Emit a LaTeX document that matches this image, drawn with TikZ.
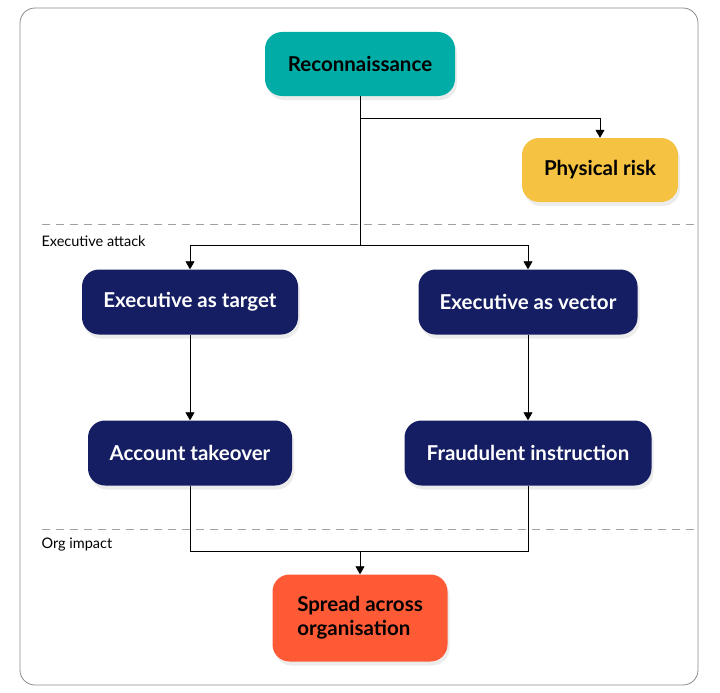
\documentclass[tikz,border=0pt]{standalone}
\usepackage{fontspec}
\setmainfont{Lato}
\usepackage{tikz}
\usetikzlibrary{arrows.meta}
\usetikzlibrary{shadows}
\definecolor{reconteal}{HTML}{00ADA6}
\definecolor{riskyellow}{HTML}{F5C242}
\definecolor{execnavy}{HTML}{151E62}
\definecolor{impactred}{HTML}{FF5A36}
\definecolor{framegray}{HTML}{8A8A8A}
\tikzset{stage/.style={rounded corners=17pt,minimum height=65pt,align=left,
   font=\fontsize{20.5}{24}\selectfont\bfseries,
   drop shadow={opacity=0.15,shadow xshift=2pt,shadow yshift=-4pt}},
 light/.style={stage,text=black},
 dark/.style={stage,fill=execnavy,text=white},
 flow/.style={draw=black,line width=0.8pt,-{Triangle[width=9pt,length=8pt]}},
 divider/.style={draw=framegray!80,line width=1pt,dash pattern=on 8pt off 6pt},
 zone/.style={font=\fontsize{14.5}{17}\selectfont,anchor=west},
 }

\begin{document}
\begin{tikzpicture}[x=1pt,y=-1pt]
        \useasboundingbox (0,0) rectangle (720,693);
        \draw[framegray,line width=0.8pt,rounded corners=15pt] (20,8) rectangle (698,685);
        % zones
        \draw[divider] (42,224) -- (698,224);
        \draw[divider] (42,529) -- (698,529);
        \node[zone] (execzone) at (38,241) {Executive attack};
        \node[zone] (orgzone) at (38,545) {Org impact};
        % stages
        \node[light,fill=reconteal,minimum width=190pt,minimum height=64pt] (recon) at (360,64) {Reconnaissance};
        \node[light,fill=riskyellow,minimum width=156pt,minimum height=64pt] (risk) at (600,170) {Physical risk};
        \node[dark,minimum width=216pt] (target) at (190,302) {Executive as target};
        \node[dark,minimum width=219pt] (vector) at (528,302) {Executive as vector};
        \node[dark,minimum width=204pt] (takeover) at (190,453) {Account takeover};
        \node[dark,minimum width=247pt] (fraud) at (528,453) {Fraudulent instruction};
        \node[light,fill=impactred,minimum width=175pt,minimum height=87pt] (spread) at (360,618) {Spread across\\organisation};
        % connectors
        \coordinate (split) at (360,245);
        \coordinate (merge) at (360,551);
        \draw[flow] (recon.south) |- (600,118) -- (risk.north);
        \draw[line width=0.8pt] (recon.south) -- (split);
        \draw[flow] (split) -| (target.north);
        \draw[flow] (split) -| (vector.north);
        \draw[flow] (target) -- (takeover);
        \draw[flow] (vector) -- (fraud);
        \draw[line width=0.8pt] (takeover.south) |- (merge);
        \draw[line width=0.8pt] (fraud.south) |- (merge);
        \draw[flow] (merge) -- (spread.north);
    \end{tikzpicture}
\end{document}
